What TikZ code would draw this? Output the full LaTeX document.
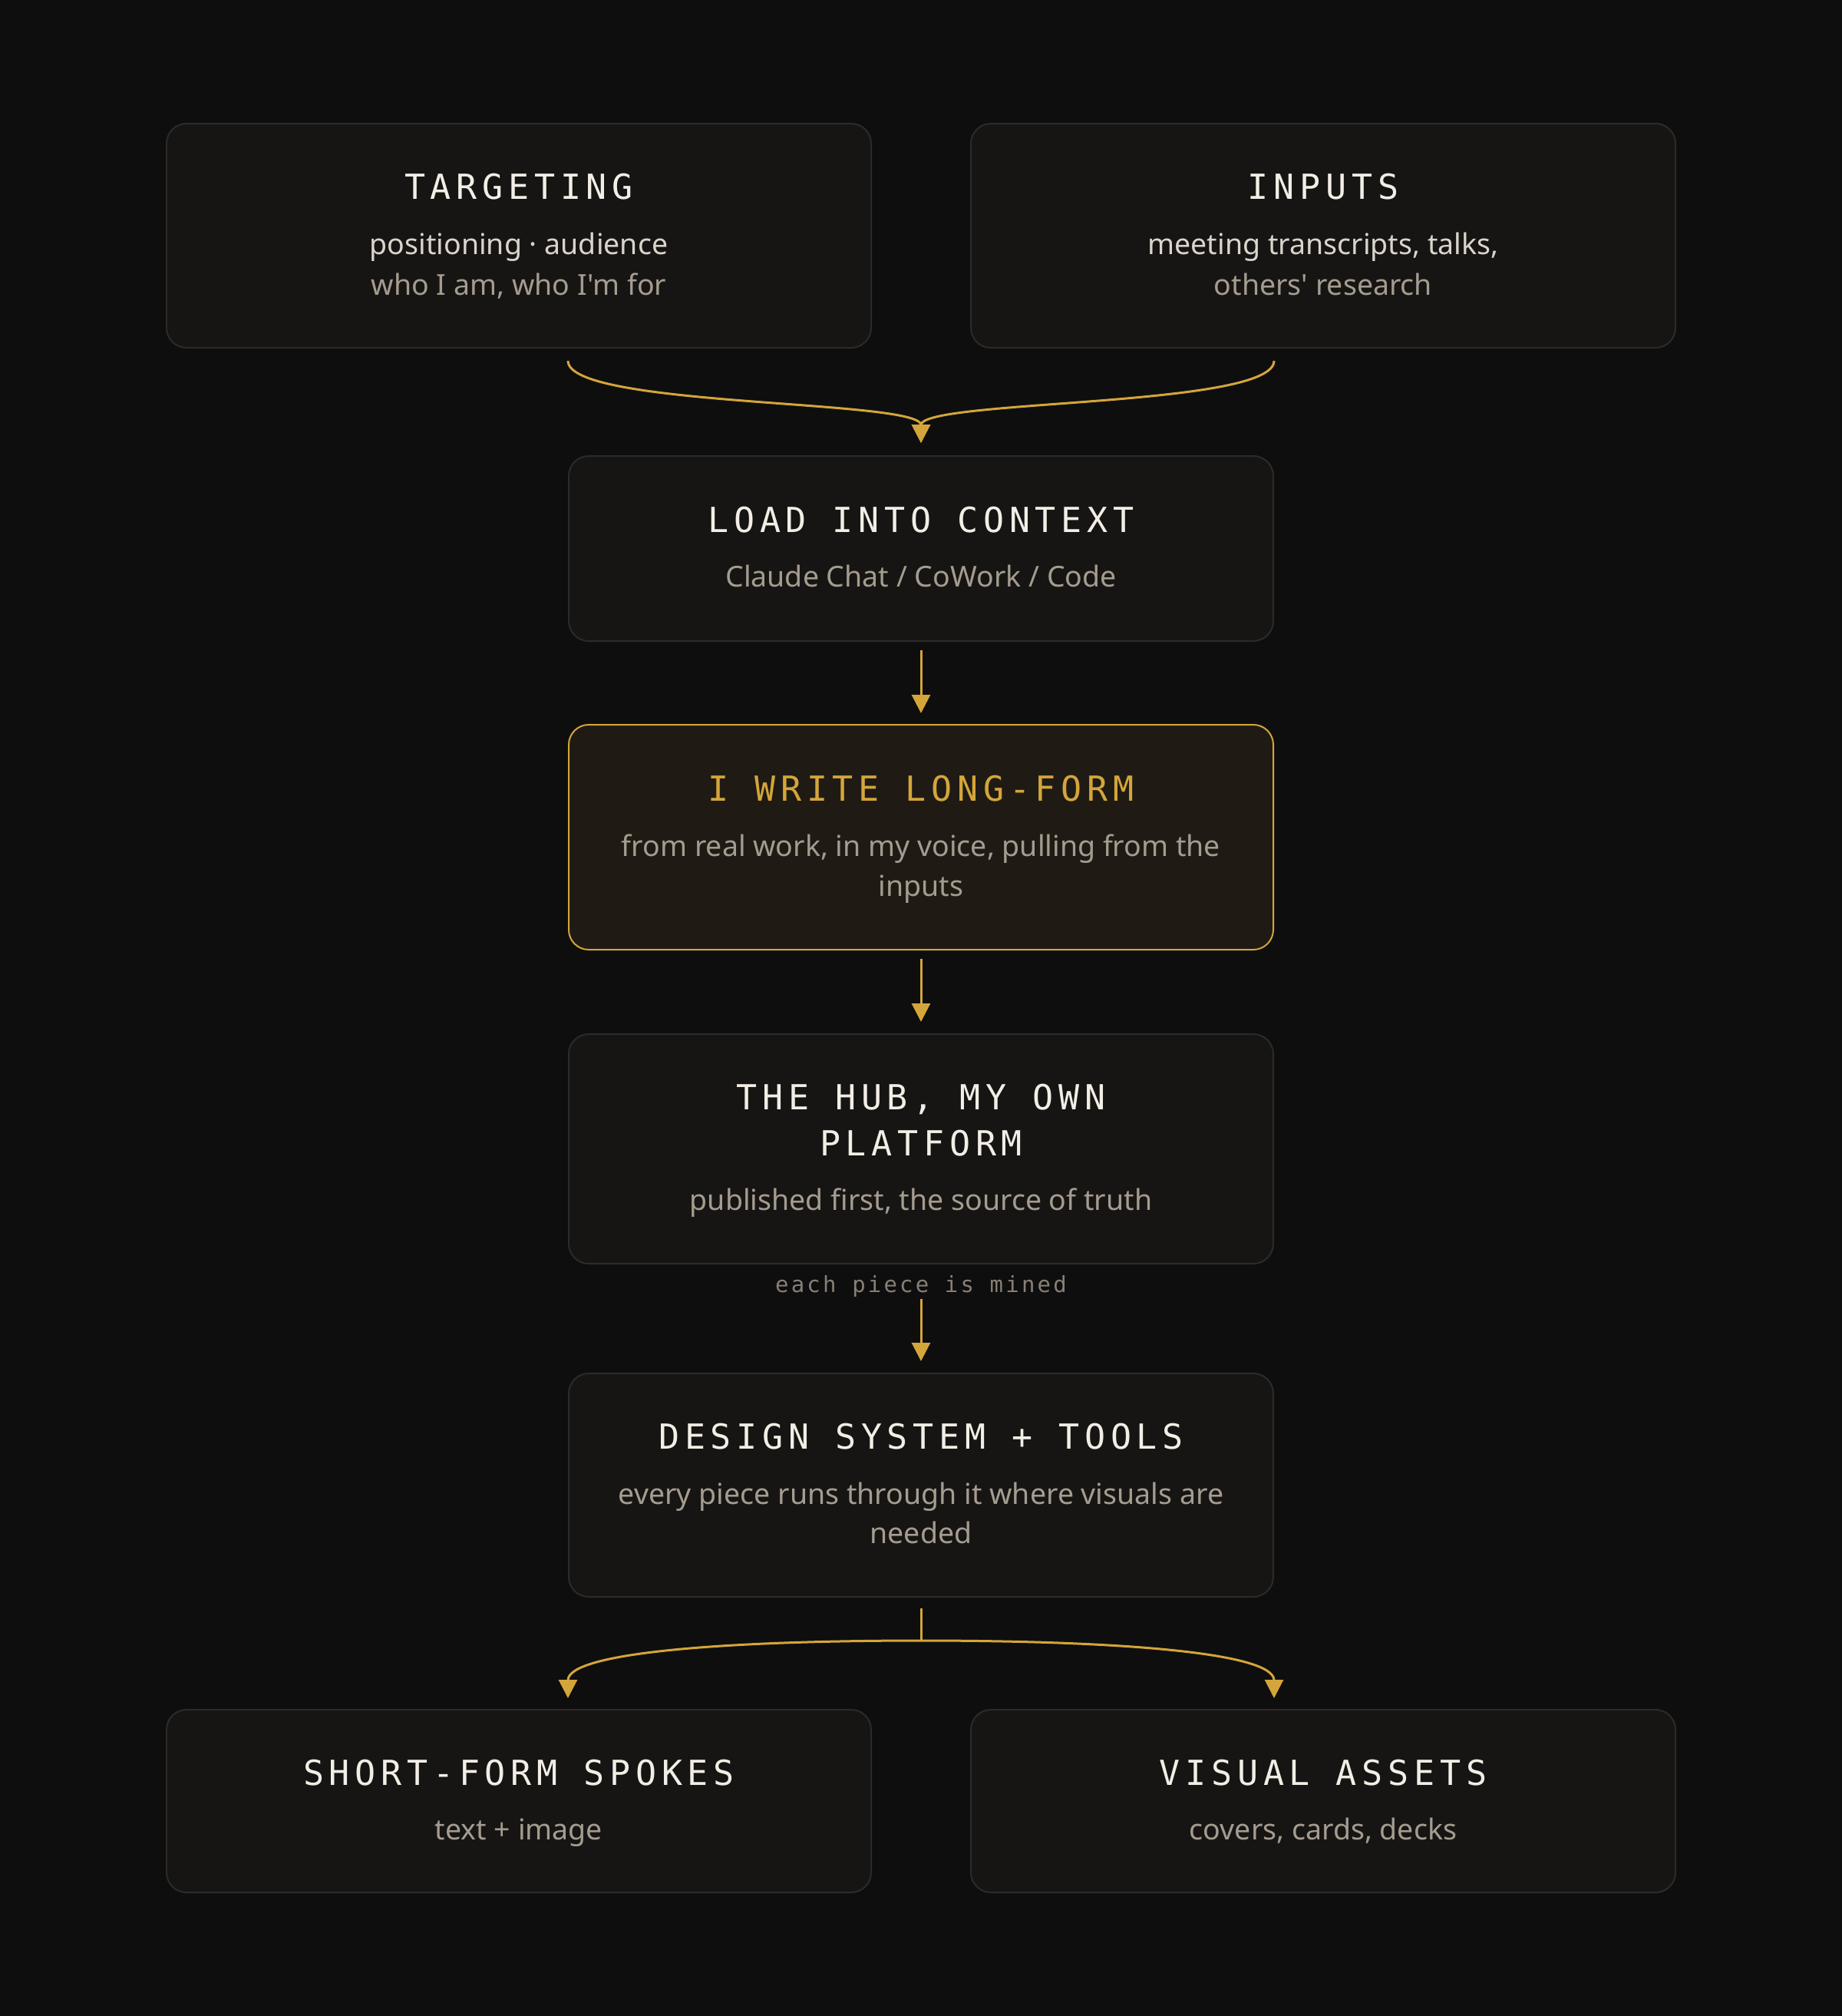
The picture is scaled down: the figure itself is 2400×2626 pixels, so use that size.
\documentclass[tikz,border=0pt]{standalone}
\usepackage{fontspec}
\usepackage{tikz}
\usetikzlibrary{arrows.meta}
\newfontfamily\titleFamily[LetterSpace=15]{DejaVu Sans Mono}
\newfontfamily\noteFamily[LetterSpace=11]{DejaVu Sans Mono}
\newfontfamily\subFamily[Ligatures=TeXOff]{Noto Sans}
\definecolor{pageColor}{HTML}{0E0E0E}
\definecolor{cardFill}{HTML}{161513}
\definecolor{cardEdge}{HTML}{2C2B29}
\definecolor{hotFill}{HTML}{1F1B14}
\definecolor{goldColor}{HTML}{D4A53A}
\definecolor{titleColor}{HTML}{F2EEE6}
\definecolor{leadColor}{HTML}{DAD4CB}
\definecolor{subColor}{HTML}{A59C90}
\definecolor{noteColor}{HTML}{887F75}
\tikzstyle{canvas} = [x = 1pt, y = -1pt]
\tikzstyle{card} = [draw=cardEdge, fill=cardFill, line width=2pt, rounded corners=26pt, minimum width=918pt, inner sep=0pt]
\tikzstyle{hotCard} = [card, draw=goldColor, fill=hotFill]
\tikzstyle{cardTitle} = [anchor=base, inner sep=0pt, text=titleColor, font=\fontsize{45}{54}\titleFamily]
\tikzstyle{hotTitle} = [cardTitle, text=goldColor]
\tikzstyle{cardLead} = [anchor=base, inner sep=0pt, text=leadColor, font=\fontsize{37.5}{46}\subFamily]
\tikzstyle{cardSub} = [cardLead, text=subColor]
\tikzstyle{noteText} = [anchor=base, inner sep=0pt, text=noteColor, font=\fontsize{29}{34}\noteFamily]
\tikzstyle{flowLine} = [draw=goldColor, line width=3pt]
\tikzstyle{flow} = [flowLine, -{Triangle[length=24pt, width=24pt]}]
\newcommand{\cardLine}[5]{\node [#2] (#1#3) at ([yshift=-#4pt]#1.north) {#5};}

\begin{document}
\begin{tikzpicture}[canvas]
  \fill [pageColor] (0,0) rectangle (2400,2626);
  \node [card, minimum height=292pt] (tgt) at (676,307) {};
  \node [card, minimum height=292pt] (inp) at (1724,307) {};
  \node [card, minimum height=241pt] (load) at (1200,714.5) {};
  \node [hotCard, minimum height=293pt] (write) at (1200,1090.5) {};
  \node [card, minimum height=299pt] (hub) at (1200,1496.5) {};
  \node [card, minimum height=291pt] (design) at (1200,1934.5) {};
  \node [card, minimum height=238pt] (short) at (676,2346) {};
  \node [card, minimum height=238pt] (vis) at (1724,2346) {};
  \cardLine{tgt}{cardTitle}{Title}{99}{TARGETING}
  \cardLine{tgt}{cardLead}{Lead}{171}{positioning · audience}
  \cardLine{tgt}{cardSub}{Sub}{224}{who I am, who I'm for}
  \cardLine{inp}{cardTitle}{Title}{99}{INPUTS}
  \cardLine{inp}{cardLead}{Lead}{171}{meeting transcripts, talks,}
  \cardLine{inp}{cardSub}{Sub}{224}{others' research}
  \cardLine{load}{cardTitle}{Title}{100}{LOAD INTO CONTEXT}
  \cardLine{load}{cardSub}{Sub}{171}{Claude Chat / CoWork / Code}
  \cardLine{write}{hotTitle}{Title}{100}{I WRITE LONG-FORM}
  \cardLine{write}{cardSub}{Sub}{172}{from real work, in my voice, pulling from the}
  \cardLine{write}{cardSub}{SubB}{224}{inputs}
  \cardLine{hub}{cardTitle}{Title}{99}{THE HUB, MY OWN}
  \cardLine{hub}{cardTitle}{TitleB}{159}{PLATFORM}
  \cardLine{hub}{cardSub}{Sub}{230}{published first, the source of truth}
  \cardLine{design}{cardTitle}{Title}{99}{DESIGN SYSTEM + TOOLS}
  \cardLine{design}{cardSub}{Sub}{171}{every piece runs through it where visuals are}
  \cardLine{design}{cardSub}{SubB}{222}{needed}
  \cardLine{short}{cardTitle}{Title}{99}{SHORT-FORM SPOKES}
  \cardLine{short}{cardSub}{Sub}{170}{text + image}
  \cardLine{vis}{cardTitle}{Title}{99}{VISUAL ASSETS}
  \cardLine{vis}{cardSub}{Sub}{170}{covers, cards, decks}
  \node [noteText] (mined) at ([yshift=-36pt]hub.south) {each piece is mined};
  \path (tgt.south -| load.west) ++(0,16) coordinate (fanL);
  \path (inp.south -| load.east) ++(0,16) coordinate (fanR);
  \path (design.south) ++(0,56) coordinate (split);
  \path (short.north -| design.west) ++(0,-14) coordinate (spokeL);
  \path (vis.north -| design.east) ++(0,-14) coordinate (spokeR);
  \draw [flow, shorten >=16pt] (fanL) .. controls +(0,61) and +(0,-73) .. (load.north);
  \draw [flow, shorten >=16pt] (fanR) .. controls +(0,61) and +(0,-73) .. (load.north);
  \draw [flow, shorten <=11pt, shorten >=14pt] (load) -- (write);
  \draw [flow, shorten <=11pt, shorten >=15pt] (write) -- (hub);
  \draw [flow, shorten <=3pt, shorten >=15pt] (mined.south) -- (design.north);
  \draw [flowLine, shorten <=14pt] (design.south) -- (split);
  \draw [flow] (split) .. controls +(-250,0) and +(0,-60) .. (spokeL);
  \draw [flow] (split) .. controls +(250,0) and +(0,-60) .. (spokeR);
\end{tikzpicture}
\end{document}
